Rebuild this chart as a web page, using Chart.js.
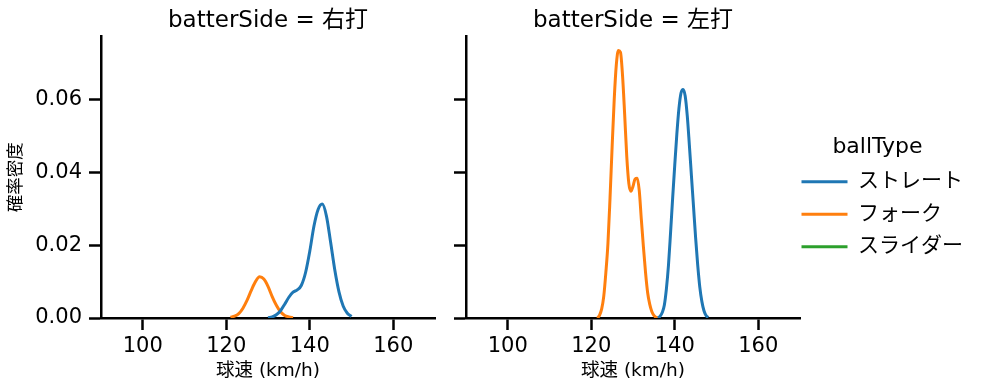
<!DOCTYPE html>
<html>
<head>
<meta charset="utf-8">
<script src="https://cdn.jsdelivr.net/npm/chart.js@4/dist/chart.umd.min.js"></script>
<style>
  body { margin: 0; background: #fff; }
  #wrap { position: relative; width: 995px; height: 391px; }
  #left { position: absolute; left: 0; top: 0; }
  #right { position: absolute; left: 445px; top: 0; }
</style>
</head>
<body>
<div id="wrap">
  <canvas id="left" width="445" height="391"></canvas>
  <canvas id="right" width="550" height="391"></canvas>
</div>
<script>
// tick labels
const xTicks = [100, 120, 140, 160];
const yTicks = [0, 0.02, 0.04, 0.06];
const ballTypes = ["ストレート", "フォーク", "スライダー"];
const colors = ["#1f77b4", "#ff7f0e", "#2ca02c"];

// 右打
const rStraightX = [130,131,132,133,134,135,136,137,138,139,140,141,142,143,144,145,146,147,148,149,150];
const rStraightY = [0.0001,0.0003,0.0009,0.0020,0.0038,0.0057,0.0071,0.0077,0.0090,0.0125,0.0183,0.0252,0.0298,0.0313,0.0280,0.0208,0.0132,0.0072,0.0033,0.0013,0.0004];
const rForkX = [121,122,123,124,125,126,127,128,129,130,131,132,133,134,135,136];
const rForkY = [0.0002,0.0005,0.0012,0.0027,0.0049,0.0076,0.0100,0.0113,0.0107,0.0087,0.0059,0.0035,0.0017,0.0007,0.0003,0.0001];

// 左打
const lStraightX = [136,136.5,137,137.5,138,138.5,139,139.5,140,140.5,141,141.5,142,142.5,143,143.5,144,144.5,145,145.5,146,146.5,147,147.5,148];
const lStraightY = [0.0000,0.0005,0.0015,0.0035,0.0080,0.0145,0.0235,0.0330,0.0420,0.0505,0.0575,0.0618,0.0628,0.0610,0.0555,0.0475,0.0390,0.0305,0.0220,0.0145,0.0085,0.0045,0.0020,0.0007,0.0001];
const lForkX = [121.5,122,122.5,123,123.5,124,124.5,125,125.5,126,126.5,127,127.5,128,128.5,129,129.5,130,130.5,131,131.5,132,132.5,133,133.5,134,134.5,135,135.5,136];
const lForkY = [0.0000,0.0008,0.0025,0.0060,0.0125,0.0205,0.0330,0.0470,0.0600,0.0695,0.0735,0.0730,0.0665,0.0560,0.0445,0.0370,0.0348,0.0362,0.0382,0.0384,0.0350,0.0270,0.0195,0.0125,0.0070,0.0038,0.0018,0.0007,0.0002,0.0000];

Chart.defaults.font.family = "'DejaVu Sans', 'Noto Sans CJK JP', sans-serif";
Chart.defaults.color = "#000";

function pts(xs, ys) {
  return xs.map((x, i) => ({ x: x, y: ys[i] }));
}

function line(label, data, color) {
  return {
    label: label,
    data: data,
    borderColor: color,
    backgroundColor: color,
    borderWidth: 3,
    pointRadius: 0,
    cubicInterpolationMode: "monotone",
    fill: false
  };
}

function scales(showY) {
  const grid = { drawOnChartArea: false, drawTicks: true, tickLength: 12, tickWidth: 2.5, tickColor: "#000" };
  return {
    x: {
      type: "linear",
      min: 90, max: 170,
      afterBuildTicks: s => { s.ticks = xTicks.map(v => ({ value: v })); },
      afterFit: s => { s.height = 73; },
      grid: grid,
      border: { display: true, color: "#000", width: 2.5 },
      ticks: { font: { size: 21 }, padding: 4, maxRotation: 0 },
      title: { display: true, text: "球速 (km/h)", font: { size: 18.5 }, padding: { top: 0, bottom: 9 } }
    },
    y: {
      min: 0, max: 0.0773,
      afterBuildTicks: s => { s.ticks = yTicks.map(v => ({ value: v })); },
      afterFit: s => { s.width = showY ? 101 : 21; },
      grid: grid,
      border: { display: true, color: "#000", width: 2.5 },
      ticks: {
        font: { size: 21 }, padding: 7,
        callback: v => showY ? v.toFixed(2) : ""
      },
      title: { display: showY, text: "確率密度", font: { size: 17.5 }, padding: { top: 6, bottom: 0 } }
    }
  };
}

function title(text) {
  return {
    display: true, text: text, fullSize: false,
    font: { size: 23, weight: "normal" }, color: "#000",
    padding: { top: 7, bottom: 2 }
  };
}

new Chart(document.getElementById("left"), {
  type: "line",
  data: {
    datasets: [
      line(ballTypes[0], pts(rStraightX, rStraightY), colors[0]),
      line(ballTypes[1], pts(rForkX, rForkY), colors[1])
    ]
  },
  options: {
    responsive: false, animation: false, devicePixelRatio: 1,
    layout: { padding: { left: 0, right: 10, top: 0, bottom: 0 } },
    plugins: { legend: { display: false }, title: title("batterSide = 右打"), tooltip: { enabled: false } },
    scales: scales(true)
  }
});

// move the legend box next to the plot like the figure legend
const shiftLegend = {
  id: "shiftLegend",
  afterLayout(chart) {
    const l = chart.legend;
    l.left -= 10; l.right -= 10;
    l.top += 7; l.bottom += 7;
  }
};

new Chart(document.getElementById("right"), {
  type: "line",
  data: {
    datasets: [
      line(ballTypes[0], pts(lStraightX, lStraightY), colors[0]),
      line(ballTypes[1], pts(lForkX, lForkY), colors[1]),
      line(ballTypes[2], [], colors[2])
    ]
  },
  options: {
    responsive: false, animation: false, devicePixelRatio: 1,
    layout: { padding: { left: 0, right: 20, top: 0, bottom: 0 } },
    plugins: {
      title: title("batterSide = 左打"),
      tooltip: { enabled: false },
      legend: {
        position: "right", align: "center", maxWidth: 175,
        title: { display: true, text: "ballType", font: { size: 22 }, padding: { top: 0, bottom: -3 } },
        labels: {
          boxWidth: 46, boxHeight: 3, padding: 11.5,
          font: { size: 21 },
          generateLabels: ch => ch.data.datasets.map((d, i) => ({
            text: d.label, fillStyle: d.borderColor, strokeStyle: d.borderColor,
            lineWidth: 0, datasetIndex: i
          }))
        }
      }
    },
    scales: scales(false)
  },
  plugins: [shiftLegend]
});
</script>
</body>
</html>
